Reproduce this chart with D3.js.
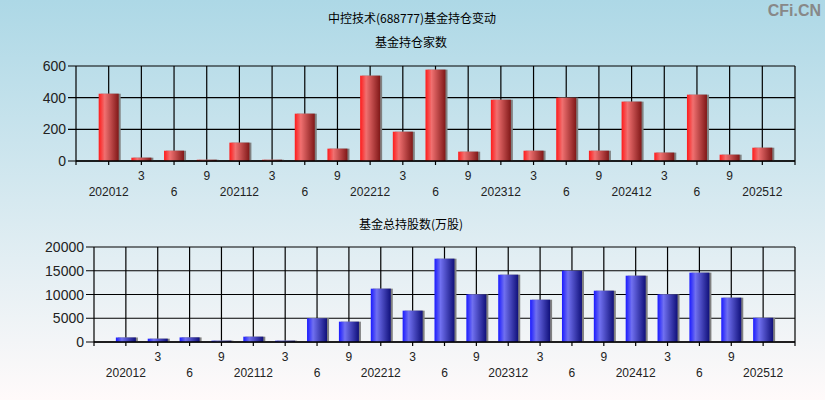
<!DOCTYPE html>
<html><head><meta charset="utf-8">
<script src="https://cdn.jsdelivr.net/npm/d3@7"></script>
<style>html,body{margin:0;padding:0;overflow:hidden}svg{display:block}</style>
</head><body>
<script>
const categories = ["202012","202103","202106","202109","202112","202203","202206","202209","202212","202303","202306","202309","202312","202403","202406","202409","202412","202503","202506","202509","202512"];
const tickLabels = ["202012","3","6","9","202112","3","6","9","202212","3","6","9","202312","3","6","9","202412","3","6","9","202512"];
const fundCount = [425,21,65,8,116,8,299,78,539,185,577,59,387,65,400,65,375,53,419,40,84];
const fundShares = [950,700,970,280,1120,280,5000,4280,11230,6600,17540,10030,14170,8900,15020,10800,13960,10030,14600,9330,5100];
const countTicks = [0,200,400,600];
const shareTicks = [0,5000,10000,15000,20000];

const W = 825, H = 400;
const svg = d3.select("body").append("svg").attr("width", W).attr("height", H);
const defs = svg.append("defs");
const bg = defs.append("linearGradient").attr("id","bg").attr("x1",0).attr("y1",0).attr("x2",0).attr("y2",1);
bg.append("stop").attr("offset","0%").attr("stop-color","#add8e6");
bg.append("stop").attr("offset","100%").attr("stop-color","#fffafa");
svg.append("rect").attr("width",W).attr("height",H).attr("fill","url(#bg)");

function barGrad(id, c0, c1, c2) {
  const g = defs.append("linearGradient").attr("id",id).attr("x1",0).attr("y1",0).attr("x2",1).attr("y2",0);
  g.append("stop").attr("offset","0%").attr("stop-color",c0);
  g.append("stop").attr("offset","30%").attr("stop-color",c1);
  g.append("stop").attr("offset","100%").attr("stop-color",c2);
}
barGrad("gRed","#ff1a1a","#f07070","#801818");
barGrad("gBlue","#1a1aff","#7070f0","#10107a");

const font = "'Liberation Sans', Arial, sans-serif";
const cjk = "'Noto Sans CJK SC', 'Liberation Sans', sans-serif";

svg.append("text").attr("x",412).attr("y",23).attr("text-anchor","middle")
  .attr("font-family",cjk).attr("font-size",12).attr("fill","#000").text("中控技术(688777)基金持仓变动");
svg.append("text").attr("x",821).attr("y",16).attr("text-anchor","end")
  .attr("font-family",font).attr("font-weight","bold").attr("font-size",16).attr("fill","#888").text("CFi.CN");

function panel(opt) {
  const {left,right,top,bottom,values,ticks,max,grad,title,titleY} = opt;
  svg.append("text").attr("x",411).attr("y",titleY).attr("text-anchor","middle")
    .attr("font-family",cjk).attr("font-size",12).attr("fill","#000").text(title);
  const y = d3.scaleLinear().domain([0,max]).range([bottom,top]);
  const band = d3.scaleLinear().domain([-1, categories.length]).range([left,right]);
  const g = svg.append("g");
  ticks.forEach(t => {
    g.append("line").attr("x1",left-8).attr("x2",right).attr("y1",y(t)).attr("y2",y(t))
      .attr("stroke","#000").attr("stroke-width",1.2);
    g.append("text").attr("x",left-10).attr("y",y(t)+5).attr("text-anchor","end")
      .attr("font-family",font).attr("font-size",14).attr("fill","#222").text(t);
  });
  const xs = d3.range(-1, categories.length+1).map(i => band(i));
  xs.forEach(x => {
    g.append("line").attr("x1",x).attr("x2",x).attr("y1",top).attr("y2",bottom+4)
      .attr("stroke","#000").attr("stroke-width",1.2);
  });
  const bw = 20;
  values.forEach((v,i) => {
    const cx = band(i);
    g.append("rect").attr("x",cx-bw/2+2).attr("y",y(v)).attr("width",bw).attr("height",bottom-y(v))
      .attr("fill","#808080");
    g.append("rect").attr("x",cx-bw/2).attr("y",y(v)).attr("width",bw).attr("height",bottom-y(v))
      .attr("fill",`url(#${grad})`);
  });
  g.append("line").attr("x1",left).attr("x2",right).attr("y1",bottom).attr("y2",bottom)
    .attr("stroke","#000").attr("stroke-width",1.5);
  tickLabels.forEach((t,i) => {
    const row = i % 2 === 0 ? 1 : 0;
    g.append("text").attr("x",band(i)).attr("y",bottom + 19 + row*16).attr("text-anchor","middle")
      .attr("font-family",font).attr("font-size",12).attr("fill","#222").text(t);
  });
}

panel({left:76,right:795,top:66,bottom:161,values:fundCount,ticks:countTicks,max:600,grad:"gRed",title:"基金持仓家数",titleY:47});
panel({left:94,right:795,top:247,bottom:342,values:fundShares,ticks:shareTicks,max:20000,grad:"gBlue",title:"基金总持股数(万股)",titleY:229});
</script>
</body></html>
